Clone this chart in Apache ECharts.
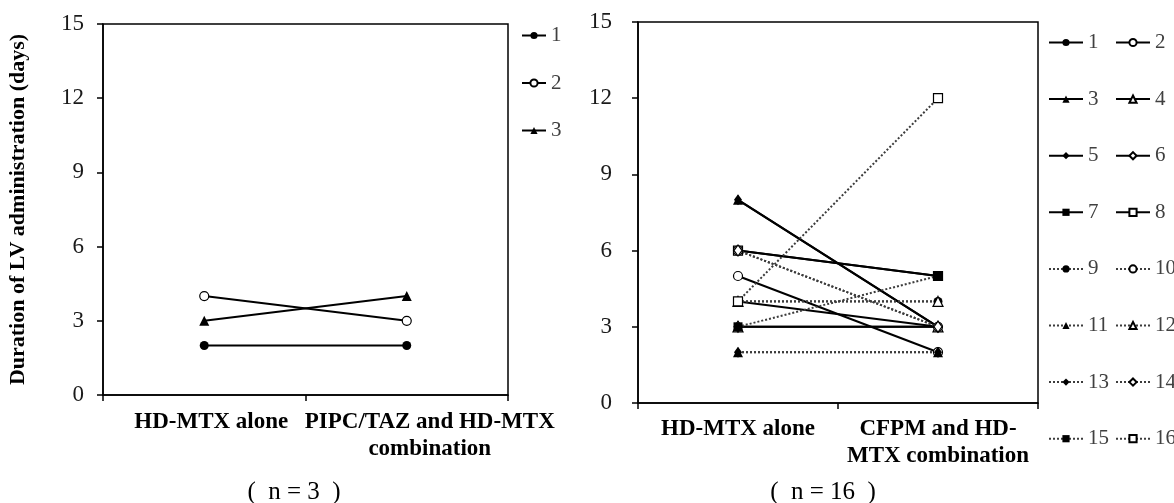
<!DOCTYPE html>
<html>
<head>
<meta charset="utf-8">
<script src="https://cdn.jsdelivr.net/npm/echarts@6/dist/echarts.min.js"></script>
<style>
  html, body { margin: 0; padding: 0; background: #fff; }
  #chart { width: 1174px; height: 503px; }
</style>
</head>
<body>
<div id="chart"></div>
<script>
// categories
const leftCats = ['HD-MTX alone', 'PIPC/TAZ and HD-MTX\ncombination'];
const rightCats = ['HD-MTX alone', 'CFPM and HD-\nMTX combination'];

// patients (legend labels) and their values [alone, combination]
const leftNames = ['1', '2', '3'];
const leftValues = [[2, 2], [4, 3], [3, 4]];

const rightNames = ['1', '2', '3', '4', '5', '6', '7', '8',
                    '9', '10', '11', '12', '13', '14', '15', '16'];
const rightValues = [
  [4, 3], [5, 2], [8, 3], [3, 3], [8, 3], [3, 3], [6, 5], [6, 5],
  [4, 4], [6, 3], [2, 2], [4, 4], [2, 2], [6, 3], [3, 5], [4, 12]
];

const sampleSizes = ['(  n = 3  )', '(  n = 16  )'];

// y axis
const yMin = 0, yMax = 15, yStep = 3;

const SERIF = '"Liberation Serif", "DejaVu Serif", serif';
const shapes = ['circle', 'triangle', 'diamond', 'rect'];
const shapeSize = { circle: 9, triangle: 10, diamond: [8, 11], rect: 9 };

// patient i: pairs of (filled, open) per shape, solid for 1-8, dotted for 9-16
function makeSeries(prefix, names, values, gridIdx) {
  return names.map((n, i) => {
    const shape = shapes[Math.floor(i / 2) % 4];
    const filled = i % 2 === 0;
    const dotted = i >= 8;
    return {
      name: prefix + n,
      type: 'line',
      xAxisIndex: gridIdx,
      yAxisIndex: gridIdx,
      data: values[i],
      symbol: shape,
      symbolSize: shapeSize[shape],
      showAllSymbol: true,
      animation: false,
      itemStyle: {
        color: filled ? '#000' : '#fff',
        borderColor: '#000',
        borderWidth: filled ? 0 : 1.2
      },
      lineStyle: {
        color: dotted ? '#3c3c3c' : '#000',
        width: 2,
        type: dotted ? 'dotted' : 'solid'
      },
      emphasis: { disabled: true }
    };
  });
}

const yAxisBase = (margin) => ({
  type: 'value',
  min: yMin, max: yMax, interval: yStep,
  splitLine: { show: false },
  axisLine: { show: true, lineStyle: { color: '#000', width: 1.5 } },
  axisTick: { show: true, length: 6, lineStyle: { color: '#000', width: 1.5 } },
  axisLabel: { margin: margin, fontFamily: SERIF, fontSize: 23, color: '#1a1a1a' }
});

const labelFont = { fontFamily: SERIF, fontSize: 23, fontWeight: 'bold', color: '#000', lineHeight: 27 };

// shifts: horizontal nudge (px) of each category label, as in the original layout
const xAxisBase = (cats, margin, shifts) => ({
  type: 'category',
  data: cats,
  boundaryGap: true,
  axisLine: { show: true, lineStyle: { color: '#000', width: 1.5 } },
  axisTick: { show: true, length: 6, lineStyle: { color: '#000', width: 1.5 } },
  axisLabel: Object.assign({
    margin: margin, interval: 0,
    formatter: (v, i) => v.split('\n').map(s => '{s' + i + '|' + s + '}').join('\n'),
    rich: {
      s0: Object.assign({ padding: [0, 0, 0, shifts[0] * 2] }, labelFont),
      s1: Object.assign({ padding: [0, 0, 0, shifts[1] * 2] }, labelFont)
    }
  }, labelFont)
});

const legendBase = {
  orient: 'vertical',
  selectedMode: false,
  padding: 0,
  itemHeight: 9,
  textStyle: { fontFamily: SERIF, fontSize: 21, color: '#404040', lineHeight: 20 }
};

const chart = echarts.init(document.getElementById('chart'));

const option = {
  backgroundColor: '#fff',
  animation: false,
  grid: [
    { left: 103, top: 24, width: 405, height: 371, show: true, borderColor: '#000', borderWidth: 1.5 },
    { left: 638, top: 22, width: 400, height: 381, show: true, borderColor: '#000', borderWidth: 1.5 }
  ],
  xAxis: [
    Object.assign(xAxisBase(leftCats, 14, [7, 23]), { gridIndex: 0 }),
    Object.assign(xAxisBase(rightCats, 13, [0, 0]), { gridIndex: 1 })
  ],
  yAxis: [
    Object.assign(yAxisBase(19), {
      gridIndex: 0,
      name: 'Duration of LV administration (days)',
      nameLocation: 'middle',
      nameRotate: 90,
      nameGap: 74,
      nameTextStyle: { fontFamily: SERIF, fontSize: 22, fontWeight: 'bold', color: '#000' }
    }),
    Object.assign(yAxisBase(26), { gridIndex: 1 })
  ],
  legend: [
    Object.assign({}, legendBase, {
      left: 521, top: 25, itemWidth: 24, itemGap: 26.5,
      data: leftNames.map(n => 'L' + n),
      formatter: (name) => name.slice(1)
    }),
    Object.assign({}, legendBase, {
      left: 1048, top: 32, itemWidth: 34, itemGap: 35.6,
      data: rightNames.filter((n, i) => i % 2 === 0).map(n => 'R' + n),
      formatter: (name) => name.slice(1)
    }),
    Object.assign({}, legendBase, {
      left: 1115, top: 32, itemWidth: 34, itemGap: 35.6,
      data: rightNames.filter((n, i) => i % 2 === 1).map(n => 'R' + n),
      formatter: (name) => name.slice(1)
    })
  ],
  graphic: [
    { type: 'text', x: 294, y: 492, style: { text: sampleSizes[0], font: '25px ' + SERIF, fill: '#000', align: 'center', verticalAlign: 'middle' } },
    { type: 'text', x: 823, y: 492, style: { text: sampleSizes[1], font: '25px ' + SERIF, fill: '#000', align: 'center', verticalAlign: 'middle' } }
  ],
  series: makeSeries('L', leftNames, leftValues, 0).concat(makeSeries('R', rightNames, rightValues, 1))
};

chart.setOption(option);
</script>
</body>
</html>
